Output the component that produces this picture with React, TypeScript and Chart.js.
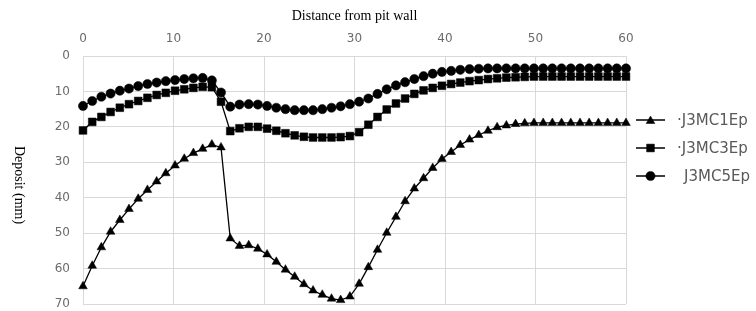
import React, { useEffect, useRef } from "react";
import { Chart, registerables } from "chart.js";

Chart.register(...registerables);

const distances = [
  0, 1.02, 2.03, 3.05, 4.07, 5.08, 6.1, 7.12, 8.14, 9.15,
  10.17, 11.19, 12.2, 13.22, 14.24, 15.25, 16.27, 17.29, 18.31, 19.32,
  20.34, 21.36, 22.37, 23.39, 24.41, 25.42, 26.44, 27.46, 28.47, 29.49,
  30.51, 31.53, 32.54, 33.56, 34.58, 35.59, 36.61, 37.63, 38.64, 39.66,
  40.68, 41.69, 42.71, 43.73, 44.75, 45.76, 46.78, 47.8, 48.81, 49.83,
  50.85, 51.86, 52.88, 53.9, 54.92, 55.93, 56.95, 57.97, 58.98, 60,
];

const j3mc1 = [
  65.0, 59.2, 54.0, 49.6, 46.3, 43.2, 40.3, 37.8, 35.4, 33.1,
  30.9, 29.0, 27.4, 26.2, 25.0, 25.8, 51.5, 53.6, 53.4, 54.4,
  56.0, 58.1, 60.3, 62.3, 64.4, 66.2, 67.4, 68.5, 68.9, 67.9,
  64.3, 59.6, 54.7, 49.9, 45.4, 41.0, 37.4, 34.5, 31.6, 29.1,
  27.1, 25.1, 23.6, 22.3, 21.1, 20.1, 19.6, 19.2, 19.0, 18.9,
  18.9, 18.9, 18.9, 18.9, 18.9, 18.9, 18.9, 18.9, 18.9, 18.9,
];

const j3mc3 = [
  21.0, 18.6, 17.2, 15.8, 14.6, 13.6, 12.7, 11.8, 11.0, 10.4,
  9.8, 9.4, 9.0, 8.7, 8.8, 12.9, 21.2, 20.4, 20.0, 20.0,
  20.5, 21.1, 21.8, 22.4, 22.8, 23.0, 23.0, 23.0, 22.9, 22.6,
  21.5, 19.4, 17.2, 15.1, 13.4, 12.0, 10.7, 9.7, 9.0, 8.4,
  7.9, 7.5, 7.1, 6.8, 6.5, 6.3, 6.1, 6.0, 5.9, 5.8,
  5.8, 5.8, 5.8, 5.8, 5.8, 5.8, 5.8, 5.8, 5.8, 5.8,
];

const j3mc5 = [
  14.1, 12.7, 11.5, 10.6, 9.8, 9.2, 8.5, 7.9, 7.5, 7.1,
  6.8, 6.5, 6.3, 6.2, 6.9, 10.3, 14.3, 13.7, 13.6, 13.7,
  14.1, 14.6, 15.0, 15.3, 15.3, 15.3, 15.0, 14.6, 14.2, 13.6,
  12.9, 12.0, 10.7, 9.4, 8.3, 7.4, 6.5, 5.7, 5.0, 4.5,
  4.2, 3.9, 3.7, 3.6, 3.5, 3.5, 3.5, 3.5, 3.5, 3.5,
  3.5, 3.5, 3.5, 3.5, 3.5, 3.5, 3.5, 3.5, 3.5, 3.5,
];

const seriesLabels = ["\u00b7J3MC1Ep", "\u00b7J3MC3Ep", "J3MC5Ep"];
const seriesShapes = ["triangle", "rect", "circle"];
const seriesRadius = [5, 5.5, 4.6];
const xTitle = "Distance from pit wall";
const yTitle = "Deposit (mm)";

const GRID = "#d9d9d9";
const TICK = "#6b6b6b";

function drawMarker(ctx: CanvasRenderingContext2D, shape: string, r: number, x: number, y: number) {
  ctx.beginPath();
  if (shape === "circle") {
    ctx.arc(x, y, r, 0, Math.PI * 2);
  } else if (shape === "rect") {
    const s = Math.SQRT1_2 * r;
    ctx.rect(x - s, y - s, 2 * s, 2 * s);
  } else {
    let rad = 0;
    ctx.moveTo(x + Math.sin(rad) * r, y - Math.cos(rad) * r);
    rad += (2 * Math.PI) / 3;
    ctx.lineTo(x + Math.sin(rad) * r, y - Math.cos(rad) * r);
    rad += (2 * Math.PI) / 3;
    ctx.lineTo(x + Math.sin(rad) * r, y - Math.cos(rad) * r);
    ctx.closePath();
  }
  ctx.fill();
  ctx.stroke();
}

const customPlugin = {
  id: "customDecor",
  afterDraw(chart: any) {
    const ctx = chart.ctx;
    ctx.save();
    ctx.fillStyle = "#000";
    ctx.font = "14px 'Liberation Serif', serif";
    ctx.textAlign = "center";
    ctx.textBaseline = "middle";
    ctx.translate(19, 185);
    ctx.rotate(Math.PI / 2);
    ctx.fillText(yTitle, 0, 0);
    ctx.restore();

    const rows = [120, 148, 176];
    chart.data.datasets.forEach((ds: any, i: number) => {
      const y = rows[i];
      ctx.save();
      ctx.strokeStyle = "#000";
      ctx.lineWidth = 1.5;
      ctx.beginPath();
      ctx.moveTo(636, y);
      ctx.lineTo(665, y);
      ctx.stroke();
      ctx.fillStyle = "#000";
      ctx.lineWidth = 0.5;
      drawMarker(ctx, seriesShapes[i], seriesRadius[i], 650.5, y + (seriesShapes[i] === "triangle" ? 1 : 0));
      ctx.fillStyle = "#595959";
      ctx.font = "15px 'DejaVu Sans', sans-serif";
      ctx.textAlign = "left";
      ctx.textBaseline = "middle";
      ctx.fillText(ds.label, ds.label.startsWith("\u00b7") ? 677 : 684, y + 1);
      ctx.restore();
    });
  },
};

export default function App() {
  const ref = useRef<HTMLCanvasElement | null>(null);

  useEffect(() => {
    if (!ref.current) return;
    const mk = (label: string, vals: number[], i: number) => ({
      label,
      data: vals.map((v, k) => ({ x: distances[k], y: v })),
      borderColor: "#000",
      backgroundColor: "#000",
      borderWidth: 1.3,
      pointStyle: seriesShapes[i],
      pointRadius: seriesRadius[i],
      pointBorderWidth: 0.5,
      pointBackgroundColor: "#000",
      pointBorderColor: "#000",
      tension: 0,
      clip: false as any,
    });
    const chart = new Chart(ref.current, {
      type: "line",
      data: {
        datasets: [
          mk(seriesLabels[0], j3mc1, 0),
          mk(seriesLabels[1], j3mc3, 1),
          mk(seriesLabels[2], j3mc5, 2),
        ],
      },
      options: {
        animation: false,
        responsive: false,
        maintainAspectRatio: false,
        layout: { padding: { left: 0, top: 0, right: 130, bottom: 7 } },
        plugins: {
          legend: { display: false },
          tooltip: { enabled: false },
        },
        scales: {
          x: {
            type: "linear",
            position: "top",
            min: 0,
            max: 60,
            ticks: {
              stepSize: 10,
              color: TICK,
              padding: 10,
              font: { size: 12, family: "'DejaVu Sans', sans-serif" },
            },
            grid: { color: GRID, lineWidth: 1, drawTicks: false },
            border: { display: false },
            title: {
              display: true,
              text: xTitle,
              color: "#000",
              font: { size: 14, family: "'Liberation Serif', serif" },
              padding: { top: 8, bottom: 0 },
            },
            afterFit: (scale: any) => {
              scale.height = 56;
              scale.paddingLeft = 0;
              scale.paddingRight = 0;
            },
          },
          y: {
            type: "linear",
            reverse: true,
            min: 0,
            max: 70,
            ticks: {
              stepSize: 10,
              color: TICK,
              padding: 13,
              font: { size: 12, family: "'DejaVu Sans', sans-serif" },
            },
            grid: { color: GRID, lineWidth: 1, drawTicks: false },
            border: { display: false },
            afterFit: (scale: any) => {
              scale.width = 83;
              scale.paddingTop = 0;
              scale.paddingBottom = 0;
            },
          },
        },
      },
      plugins: [customPlugin],
    });
    return () => chart.destroy();
  }, []);

  return (
    <div style={{ position: "absolute", left: 0, top: 0, width: 756, height: 311, background: "#fff" }}>
      <canvas ref={ref} width={756} height={311} style={{ width: 756, height: 311 }} />
    </div>
  );
}
